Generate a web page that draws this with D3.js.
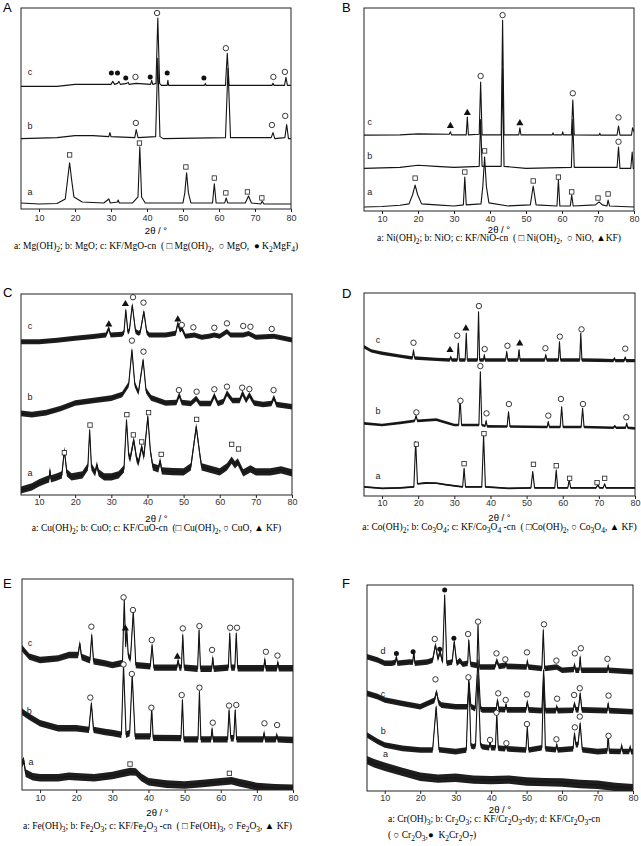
<!DOCTYPE html>
<html><head><meta charset="utf-8">
<script src="https://cdn.jsdelivr.net/npm/d3@7"></script>
<style>
body{margin:0;background:#fff}
svg text{font-family:"Liberation Sans",Arial,sans-serif}
.cap{font-family:"Liberation Serif","Times New Roman",serif;font-size:9.5px;white-space:pre}
</style></head><body>
<svg id="fig" width="641" height="846"></svg>
<script>
var xDomain = [5, 80];
var xTicks = [10, 20, 30, 40, 50, 60, 70, 80];

// ---- A : Mg
var A_a = [[5,3],[10,2.5],[15,2.7],[17.3,5],[17.9,14],[18.5,23],[19.1,14],[19.7,6],[22,3.5],[28,3],[29.4,5],[29.8,3],[31.8,3.5],[32,4.5],[32.3,3],[36,3],[37.5,6],[38,31],[38.5,6],[39.5,3],[50,3],[50.5,8],[51,18],[51.5,8],[52.2,3],[58.2,3],[58.7,12.5],[59.2,3],[61.6,3],[62,5.5],[62.4,3],[67.3,3],[68.2,6.5],[69,3],[71.6,2.5],[72,3.8],[72.5,2.5],[80,2.5]];
var A_b = [[5,35],[15,35.5],[20,36.5],[25,36.5],[29.4,36],[29.7,38],[30,36],[36.6,35.5],[37,39.5],[37.5,35.5],[42.4,36],[43,75],[43.6,36],[44.5,35],[61.8,35.5],[62.5,70],[63.2,35.5],[74.5,35.5],[75,38],[75.5,35],[78.3,35.5],[78.8,42],[79.3,35],[80,35]];
var A_c = [[5,61],[15,61],[20,62],[27,62],[30,62],[30.5,63.5],[31,62],[31.8,62.5],[32.2,63.5],[32.6,62],[34.4,62.5],[34.8,63],[35,62],[37,62.5],[41,62],[41.3,64],[41.6,62],[42.5,62.5],[43,95],[43.5,62.5],[44,61.5],[45.6,61.5],[45.8,64],[46,61.5],[56,61.5],[56.2,62.5],[56.4,61.5],[61.8,61.5],[62.3,77.5],[62.8,61.5],[74.7,61.5],[75,62.5],[75.3,61.5],[78.2,61.5],[78.6,65.5],[79,61.5],[80,61.5]];
var A_squares = [[18.5,26.9],[37.9,32.8],[50.8,20.9],[58.7,15.4],[61.9,8],[67.9,8.5],[71.9,5.5]];
var A_circles = [[42.8,97.5],[61.9,80],[36.8,65.7],[75.1,65.7],[78.3,68.2],[36.9,42.8],[74.7,41.8],[78.4,46.3]];
var A_dots = [[30.1,67.7],[31.8,67.7],[34.1,65.2],[40.9,65.7],[45.6,67.7],[55.8,65.2]];
var A_labels = [["a",7.5,8],["b",7.5,41],["c",7.5,68]];
var A_caption = ["a: Mg(OH)_2; b: MgO; c: KF/MgO-cn  ( \u25a1 Mg(OH)_2,  \u25cb MgO,  \u25cf K_2MgF_4)"];

// ---- B : Ni
var B_a = [[5,2],[10,2.2],[15,2.8],[17.5,3.5],[18.5,8],[19.2,12.8],[19.9,8],[21,3.5],[25,3],[30,2.5],[32.6,3],[33,16.7],[33.4,3],[37.5,3.5],[38,12],[38.5,26.6],[39,12],[39.7,4],[45,2.5],[51.2,3],[52,12.3],[52.8,3],[58.6,2.5],[59,15.3],[59.4,2.5],[62.3,2.5],[62.7,7.9],[63.1,2.5],[69.3,3],[70.3,4.5],[71.2,3],[72.5,2.5],[72.8,5.4],[73.2,2.5],[80,2]];
var B_b = [[5,21],[15,21.5],[20,22.5],[25,22],[30,21.5],[37,22],[37.4,45],[37.8,22],[43.1,22],[43.5,70],[43.9,22],[50,21],[62.6,21.5],[63,45],[63.4,21.5],[75.3,21.5],[75.7,31.5],[76.1,21],[79.1,21],[79.5,29],[79.8,21],[80,21]];
var B_c = [[5,37.4],[15,37.5],[20,38],[28.7,37.8],[29,39],[29.3,37.5],[33.4,37.5],[33.7,46.3],[34,37.5],[37,37.8],[37.4,63.5],[37.8,37.5],[43.1,37.5],[43.5,94],[43.9,37.5],[48,37.5],[48.3,41],[48.6,37.5],[57.3,37.5],[57.5,38.5],[57.7,37.5],[60,37.5],[60.2,39],[60.4,37.5],[62.6,37.5],[63,54.7],[63.4,37.5],[70.3,37.4],[70.5,38.3],[70.7,37.4],[75.3,37.4],[75.7,41.9],[76.1,37.4],[79.3,37.4],[79.6,41],[80,39]];
var B_squares = [[19.2,16.2],[33,19.2],[38.5,29.6],[52,14.8],[59,16.7],[62.7,9.4],[70,6.4],[72.8,8.4]];
var B_circles = [[37.4,66.5],[43.5,96.5],[63,58],[75.7,46.1],[75.7,34.1]];
var B_triangles = [[29,41.9],[33.7,48.3],[48.3,43.3]];
var B_labels = [["a",6.6,8.9],["b",6.6,27],["c",6.6,43.3]];
var B_caption = ["a: Ni(OH)_2; b: NiO; c: KF/NiO-cn  ( \u25a1 Ni(OH)_2,  \u25cb NiO, \u25b2KF)"];

// ---- C : Cu
var C_a = [[5,2.5],[8,4],[10,6],[12,7.5],[12.8,8],[13,12.4],[13.3,8],[15,9],[16.3,10],[17,22.4],[17.7,11],[19,9],[20.5,9.5],[22,10],[23.5,14],[24,32.3],[24.5,14],[25.5,11],[26,15],[26.5,11],[28,9],[30,9],[32,10],[33.5,13],[34.2,37.3],[34.8,20],[35.2,18],[36.2,27.4],[37,18],[37.5,16],[38.4,24],[39,19],[40.1,39],[40.8,22],[41.5,14],[43,13],[43.5,17],[44,12],[47,11.6],[50,11.5],[52,14],[53.5,34],[54.5,20],[55,14],[57,13],[60,11.5],[62,14],[63.3,17.4],[64.2,15],[65,16.5],[66.5,11],[68.5,13],[70,11.5],[74,11.5],[77,12.5],[80,11]];
var C_b = [[5,40.6],[8,40],[12,41],[16,43],[20,45.8],[25,47],[30,48.2],[33,50],[34.8,55],[35.7,72.1],[36.5,55],[37.5,51],[38.8,67.2],[39.6,52],[41,48.3],[45,45.8],[48,46],[48.8,49.8],[49.5,46],[52,45.5],[53.5,48],[54.5,45.5],[57.5,45.5],[58.5,49.5],[59.5,45.5],[61,46.5],[62,50.7],[63.5,47],[65.5,47],[66.3,50.7],[67.3,47],[68.2,49.8],[69.5,45.8],[72,45],[74.3,45.5],[75,48.5],[75.7,45],[80,43.9]];
var C_c = [[5,76.3],[10,76.3],[15,77],[20,78],[25,78.8],[28.5,79.6],[29.3,83],[29.8,79.6],[33,80],[33.5,81],[34,92],[34.6,81],[35,82],[35.8,94.5],[36.7,81.5],[37.5,80.5],[38,81],[39,91.2],[39.8,81],[40.5,79.6],[45,79.6],[47.8,80.5],[48.4,85.4],[49,82],[49.5,83],[50.5,79],[53,79.6],[55,78.5],[57,79],[58.5,79.6],[60,79],[62,81.3],[63,79.6],[66.5,79.6],[68,80.3],[70,78.5],[75,79],[80,77.1]];
var C_squares = [[17,21],[24.1,34.8],[34.3,40],[36.1,29.9],[38.4,26.4],[40.3,41],[43.8,20.2],[53.6,37.6],[63.3,25.2],[65.2,22.9]];
var C_circles = [[35.7,76.8],[38.9,71.3],[48.7,52.2],[53.6,51.4],[58.5,52.6],[62,53.9],[66.2,53.4],[68.2,52.7],[74.9,52.2],[36,98.4],[38.9,95.7],[49.5,84.6],[52.7,83.4],[58.5,83.2],[62,85.4],[66.5,84.1],[68.5,83.7],[74.4,82.6]];
var C_triangles = [[29.3,84.9],[33.9,95],[48.4,87.4]];
var C_labels = [["a",7.5,10.8],["b",7.5,48.6],["c",7.5,83.7]];
var C_caption = ["a: Cu(OH)_2; b: CuO; c: KF/CuO-cn  (\u25a1 Cu(OH)_2, \u25cb CuO, \u25b2 KF)"];

// ---- D : Co
var D_a = [[5,4.5],[10,3.8],[15,4],[18.8,4.5],[19.3,26.8],[19.8,6],[22,6.4],[25,6.3],[28,5.5],[32.3,4.5],[32.7,13.6],[33.1,4.5],[37.6,4.5],[38.1,30],[38.6,4.5],[45,3.8],[51.2,4],[51.7,12],[52.2,4],[57.8,4],[58.2,12.8],[58.6,4],[61.4,4],[61.8,7.9],[62.2,4],[69.2,4],[69.7,5.4],[70.2,4],[71.2,4],[71.6,5.9],[72,4],[80,4]];
var D_b = [[5,35.8],[10,35],[15,36],[19,37],[19.4,39.5],[19.8,37],[25,37.6],[28,36],[30,35],[31.2,35],[31.6,48.1],[32,35],[36.8,35],[37.2,61.2],[37.6,35],[38.5,34.5],[38.8,37],[39.1,34.3],[44.6,34.2],[45,41.5],[45.4,34.2],[50,34.1],[55.7,34],[56,36.6],[56.3,34],[59.3,34],[59.7,44],[60.1,34],[65.1,34],[65.5,43.2],[65.9,34],[74,33.6],[74.4,34.5],[74.8,33.6],[77.4,33.6],[77.7,35.8],[78,33.6],[80,33.3]];
var D_c = [[5,73.5],[7,71.5],[10,70.3],[15,68.9],[18.4,68],[18.7,71.9],[19,68],[25,67.3],[28.7,67],[29,68.5],[29.3,67],[30.8,67],[31.1,75.2],[31.4,67],[33,67],[33.3,80.1],[33.6,67],[36.4,67],[36.7,90.8],[37,67],[38.1,67],[38.3,69.5],[38.5,67],[44.2,67],[44.5,71.1],[44.8,67],[47.6,67],[47.9,72],[48.2,67],[55,67],[55.3,69.5],[55.6,67],[58.8,67],[59.1,76],[59.4,67],[64.7,67],[65,80.1],[65.3,67],[70,66.9],[74,66.7],[74.3,67.8],[74.6,66.7],[77,66.7],[77.3,68.2],[77.6,66.7],[80,66.7]];
var D_squares = [[19.5,25.5],[32.7,15.9],[38.2,30.7],[51.9,15.6],[58.2,14.9],[61.9,8.7],[69.5,6.6],[71.6,8.7]];
var D_circles = [[19.5,41.2],[31.7,46.9],[37.2,64],[38.9,40.7],[45.1,45.3],[56,39.6],[59.5,47.8],[65.6,45.3],[77.6,38.8],[18.7,75.5],[30.8,79],[36.8,93.6],[38.4,72.4],[44.7,74],[55.2,72.8],[59.2,78.5],[65.2,82.1],[77.3,72.6]];
var D_triangles = [[28.8,71.9],[33.2,82.6],[48.1,75.2]];
var D_labels = [["a",8.9,9.5],["b",8.9,41.5],["c",8.9,76.4]];
var D_caption = ["a: Co(OH)_2; b: Co_3O_4; c: KF/Co_3O_4 -cn  ( \u25a1Co(OH)_2, \u25cb Co_3O_4, \u25b2 KF)"];

// ---- E : Fe
var E_a = [[5,12.6],[5.5,14],[6,8],[8,6.3],[10,5.8],[15,5.8],[18,6.5],[20,6.3],[25,5.8],[30,6.9],[33,8],[35,8.7],[36.5,8.5],[38,6],[40,3.9],[45,2.8],[50,2.4],[55,3.1],[60,3.9],[63,4.4],[65,3.5],[67,2.8],[70,1.6],[75,1.1],[80,0.8]];
var E_b = [[5,37.1],[7,34.7],[10,31.6],[15,29.3],[20,29.3],[23.5,28.5],[24.2,41.1],[24.8,28.5],[28,27.5],[30,27],[32.5,26.2],[33.1,59.2],[33.8,26.2],[34.8,27],[35.5,54.5],[36.3,25.4],[40.5,25.4],[40.9,38.7],[41.3,24.7],[49,24.6],[49.4,42.7],[49.8,24],[53.7,24],[54.1,46.6],[54.5,24],[57.3,24],[57.6,29],[57.9,24],[61.9,24],[62.3,37.9],[62.8,24.5],[63.6,24.5],[64,37.9],[64.4,24],[70,24],[71.7,24],[72,27],[72.3,24],[75.2,24],[75.5,26],[75.8,24],[80,23.7]];
var E_c = [[5,67.2],[7,63.2],[10,61.6],[15,62.4],[18,64],[20.5,64],[21,69.5],[21.5,63],[23.8,61.5],[24.3,73.5],[24.8,61],[28,60],[30,59.2],[32.8,60.2],[33.3,90],[33.7,68],[34,76],[34.4,64],[35,62],[35.8,84.5],[36.5,59.2],[40.5,58.6],[41,68.7],[41.5,58],[47.8,58],[48.2,61.3],[48.6,58],[49.1,58],[49.5,73.5],[49.9,58],[53.6,57.5],[54,75.8],[54.4,57.5],[57.5,57.5],[57.8,62.8],[58.1,57.5],[62.1,58],[62.5,74.3],[62.9,58],[63.9,58],[64.3,74.3],[64.7,57.7],[71.9,57.7],[72.2,62],[72.5,57.7],[75.5,57.7],[75.8,60.5],[76.1,57.7],[80,57.7]];
var E_squares = [[34.9,12.3],[62.4,7.9]];
var E_circles = [[23.9,43.8],[33.1,59.5],[35.4,55],[40.8,39],[49.2,45],[54.1,48.5],[57.8,31.9],[62.3,40],[64.3,40.3],[72.1,31.6],[75.6,30.8],[24.2,77.4],[33.1,91.3],[35.7,85.3],[40.9,71.1],[49.5,76.6],[54.1,77.7],[57.6,66.4],[62.6,76.9],[64.5,76.9],[72.5,65.5],[75.7,63.7]];
var E_triangles = [[33.6,76.6],[48,63.2]];
var E_labels = [["a",7.5,13.1],["b",7,37.1],["c",7.2,69.5]];
var E_caption = ["a: Fe(OH)_3; b: Fe_2O_3; c: KF/Fe_2O_3 -cn  ( \u25a1 Fe(OH)_3, \u25cb Fe_2O_3, \u25b2 KF)"];

// ---- F : Cr
var F_a = [[5,15],[7,13.5],[10,11.8],[15,9.3],[20,6.9],[25,6],[30,6.4],[35,5.5],[40,5.3],[45,5.5],[50,4.6],[55,4.3],[60,4.1],[65,3.4],[70,3],[75,2],[80,1.3]];
var F_b = [[5,27.2],[8,24],[10,22.3],[15,20.7],[20,19.9],[23.5,19.9],[24.5,40.9],[25.3,20],[26,19.9],[30,19.1],[33,19.9],[33.7,55.5],[34.3,22],[35,21.5],[35.6,22],[36.3,56.3],[37,22.5],[37.5,21.5],[39.4,21],[39.7,24],[40,21],[41.2,21],[41.6,37.7],[42,20.8],[43.9,20.5],[44.2,22.5],[44.5,20.5],[49.8,19.9],[50.2,31.2],[50.6,19.9],[54.3,21],[54.8,56],[55.3,20.5],[58.2,20],[58.5,22.5],[58.8,19.9],[63.1,20.5],[63.5,28],[63.9,22.5],[64.5,22.5],[65.1,32.9],[65.7,20],[70,19.1],[72.7,19.5],[73,27],[73.3,19.3],[76.5,19.2],[76.8,22.2],[77.1,19.2],[78.9,19.2],[79.2,21.3],[79.5,19.1],[80,19.1]];
var F_c = [[5,47.4],[8,45.8],[10,44.2],[15,42.5],[20,40.9],[22,42.5],[24,44],[24.6,48.2],[25.2,43],[26,41.7],[30,40.9],[33.3,40.9],[33.8,52.3],[34.3,41],[35.5,40],[36.3,63.6],[37,40],[37.5,39.4],[41.4,39.4],[41.8,44.2],[42.2,39.6],[43.9,39.5],[44.2,42],[44.5,39.4],[49.8,39.4],[50.2,43.3],[50.6,39.4],[54.3,39],[54.8,58.7],[55.3,39],[58.2,39],[58.5,40.9],[58.8,39],[63.1,39.2],[63.5,42.5],[63.9,39.5],[64.6,39.4],[65.1,47.4],[65.6,39.4],[72.7,39],[73,42.5],[73.3,39],[80,38.5]];
var F_d = [[5,65.2],[8,63.6],[10,62],[12,62],[13,62.5],[13.3,65.2],[13.6,62],[17,62.6],[17.9,62.5],[18.2,67.6],[18.5,62],[22,62.6],[23.5,63.5],[24.3,70.9],[25,64.1],[25.6,67.6],[26.3,62.6],[26.9,95.1],[27.5,62],[29,62.6],[29.6,72.5],[30.3,62],[31.2,63.3],[32,61.5],[33.4,62],[33.7,73.3],[34.2,61.5],[36,61],[36.3,80.6],[36.7,60.2],[41,60.2],[41.6,63.3],[42.2,60.5],[44,61],[44.2,62],[44.4,60.5],[50,60.2],[50.2,63.3],[50.5,60.2],[54.3,59.5],[54.7,78.2],[55.1,59.5],[58.5,60.2],[60,58.6],[63.3,59],[63.5,61.5],[63.8,58.6],[64.8,58.6],[65.1,65.2],[65.4,58.6],[70,58.6],[72.8,58.6],[73,61],[73.2,58.6],[80,57.9]];
var F_circles = [[39.7,24.8],[41.5,38],[44.3,23.2],[50.1,32.5],[58.4,25.1],[63.6,30.9],[65,36.1],[73.1,26.8],[24.3,54.2],[33.6,55.2],[42,47.4],[44.1,44.2],[50.1,46.9],[58.6,44.8],[63.4,46.6],[65,49.9],[73.1,46.3],[24.1,73.8],[33.5,76.2],[36.3,82.2],[41.5,66.8],[44,63.9],[50.1,67.3],[54.9,80.9],[58.4,63.3],[63.6,66.8],[65.3,69.3],[72.8,64.1]];
var F_dots = [[13.3,66.8],[18,67.6],[25.5,68.8],[26.9,97.6],[29.5,74.1]];
var F_labels = [["a",10.2,17.8],["b",9.6,28.8],["c",9.5,46.6],["d",9.5,67.6]];
var F_caption = ["a: Cr(OH)_3; b: Cr_2O_3; c: KF/Cr_2O_3-dy; d: KF/Cr_2O_3-cn", "( \u25cb Cr_2O_3,\u25cf  K_2Cr_2O_7)"];

// layout; "band" = half height (px) of the grainy noise band drawn around a pattern
var panels = [
  {id: "A", box: [21, 291, 8, 209], letter: [3, 12], tickPad: 5, xlab: 22, cap: [38], capAlign: "middle",
   traces: [A_a, A_b, A_c], band: [0, 0, 0], labels: A_labels, caption: A_caption,
   marks: [["square", A_squares], ["circle", A_circles], ["dot", A_dots]]},
  {id: "B", box: [364, 634, 8, 211], letter: [342, 12], tickPad: 4, xlab: 19, cap: [28], capAlign: "middle",
   traces: [B_a, B_b, B_c], band: [0, 0, 0], labels: B_labels, caption: B_caption,
   marks: [["square", B_squares], ["circle", B_circles], ["tri", B_triangles]]},
  {id: "C", box: [21, 292, 294, 495], letter: [3, 297], tickPad: 3, xlab: 24, cap: [34], capAlign: "middle",
   traces: [C_a, C_b, C_c], band: [3.6, 2.8, 2.5], labels: C_labels, caption: C_caption,
   marks: [["square", C_squares], ["circle", C_circles], ["tri", C_triangles]]},
  {id: "D", box: [364, 635, 293, 496], letter: [342, 298], tickPad: 3, xlab: 22, cap: [32], capAlign: "middle",
   traces: [D_a, D_b, D_c], band: [0.9, 1.3, 1.7], labels: D_labels, caption: D_caption,
   marks: [["square", D_squares], ["circle", D_circles], ["tri", D_triangles]]},
  {id: "E", box: [22, 293, 579, 790], letter: [3, 588], tickPad: 4, xlab: 23, cap: [37], capAlign: "middle",
   traces: [E_a, E_b, E_c], band: [3.8, 3.2, 3.2], labels: E_labels, caption: E_caption,
   marks: [["square", E_squares], ["circle", E_circles], ["tri", E_triangles]]},
  {id: "F", box: [367, 633, 585, 791], letter: [342, 588], tickPad: 3, xlab: 19, cap: [29, 45], capAlign: "start",
   traces: [F_a, F_b, F_c, F_d], band: [4.2, 2.8, 2.8, 2.8], labels: F_labels, caption: F_caption,
   marks: [["circle", F_circles], ["dot", F_dots]]}
];

var svg = d3.select("#fig");
var defs = svg.append("defs");

// caption text with "_n" subscripts
function richText(g, str, x, y, anchor) {
	var t = g.append("text").attr("class", "cap").attr("x", x).attr("y", y)
		.attr("text-anchor", anchor).attr("dominant-baseline", "middle");
	var parts = str.split(/_(\d)/);
	var shifted = false;
	parts.forEach(function (s, i) {
		if (s === "") return;
		var sp = t.append("tspan").text(s);
		if (i % 2 === 1) {
			sp.attr("font-size", "7.5px").attr("dy", shifted ? null : 2.5);
			shifted = true;
		} else if (shifted) {
			sp.attr("dy", -2.5);
			shifted = false;
		}
	});
}

function drawPanel(p) {
	var b = p.box;
	var x = d3.scaleLinear().domain(xDomain).range([b[0], b[1]]);
	var y = d3.scaleLinear().domain([0, 100]).range([b[3], b[2]]);
	var g = svg.append("g").attr("id", "panel" + p.id);

	defs.append("clipPath").attr("id", "clip" + p.id)
		.append("rect").attr("x", b[0]).attr("y", b[2])
		.attr("width", b[1] - b[0]).attr("height", b[3] - b[2]);

	var line = d3.line().x(function (d) { return x(d[0]); }).y(function (d) { return y(d[1]); });
	var lines = g.append("g").attr("clip-path", "url(#clip" + p.id + ")");
	p.traces.forEach(function (t, i) {
		var h = p.band[i];
		if (h > 0) {
			var band = d3.area()
				.x(function (d) { return x(d[0]); })
				.y0(function (d) { return y(d[1]) + h; })
				.y1(function (d) { return y(d[1]) - h; });
			lines.append("path").datum(t)
				.attr("d", band)
				.attr("fill", "#1e1e1e");
		}
		lines.append("path").datum(t)
			.attr("d", line)
			.attr("fill", "none")
			.attr("stroke", "#141414")
			.attr("stroke-width", 1.1)
			.attr("stroke-linejoin", "round");
	});

	g.append("rect").attr("x", b[0]).attr("y", b[2])
		.attr("width", b[1] - b[0]).attr("height", b[3] - b[2])
		.attr("fill", "none").attr("stroke", "#222").attr("stroke-width", 1);

	// phase markers
	p.marks.forEach(function (m) {
		var kind = m[0];
		var sel = g.append("g").selectAll("path").data(m[1]).enter();
		if (kind === "square") {
			sel.append("rect")
				.attr("x", function (d) { return x(d[0]) - 2.2; })
				.attr("y", function (d) { return y(d[1]) - 2.2; })
				.attr("width", 4.4).attr("height", 4.4)
				.attr("fill", "#fff").attr("stroke", "#222").attr("stroke-width", 0.8);
		} else if (kind === "circle") {
			sel.append("circle")
				.attr("cx", function (d) { return x(d[0]); })
				.attr("cy", function (d) { return y(d[1]); })
				.attr("r", 2.7)
				.attr("fill", "#fff").attr("stroke", "#222").attr("stroke-width", 0.9);
		} else if (kind === "dot") {
			sel.append("circle")
				.attr("cx", function (d) { return x(d[0]); })
				.attr("cy", function (d) { return y(d[1]); })
				.attr("r", 2.5)
				.attr("fill", "#111");
		} else {
			sel.append("path")
				.attr("d", d3.symbol().type(d3.symbolTriangle).size(22))
				.attr("transform", function (d) { return "translate(" + x(d[0]) + "," + y(d[1]) + ")"; })
				.attr("fill", "#111");
		}
	});

	g.append("g").selectAll("text").data(p.labels).enter().append("text")
		.attr("x", function (d) { return x(d[1]); })
		.attr("y", function (d) { return y(d[2]); })
		.attr("text-anchor", "middle").attr("dominant-baseline", "middle")
		.attr("font-size", 9).attr("fill", "#222")
		.text(function (d) { return d[0]; });

	var ax = g.append("g").attr("transform", "translate(0," + b[3] + ")")
		.call(d3.axisBottom(x).tickValues(xTicks).tickSize(3).tickPadding(p.tickPad - 2));
	ax.select(".domain").remove();
	ax.attr("font-size", 9).attr("font-family", "Liberation Sans, Arial, sans-serif");
	ax.selectAll("line").attr("stroke", "#222");
	ax.selectAll("text").attr("fill", "#333");

	g.append("text").attr("x", (b[0] + b[1]) / 2).attr("y", b[3] + p.xlab)
		.attr("text-anchor", "middle").attr("dominant-baseline", "middle")
		.attr("font-size", 9.5).text("2\u03b8 / \u00b0");

	g.append("text").attr("x", p.letter[0]).attr("y", p.letter[1])
		.attr("font-size", 13).text(p.id);

	var capG = g.append("g");
	p.caption.forEach(function (c, i) {
		if (p.capAlign === "middle") {
			richText(capG, c, (b[0] + b[1]) / 2, b[3] + p.cap[i], "middle");
		} else {
			richText(capG, c, b[0] + 21, b[3] + p.cap[i], "start");
		}
	});
}

panels.forEach(drawPanel);
</script></body></html>
